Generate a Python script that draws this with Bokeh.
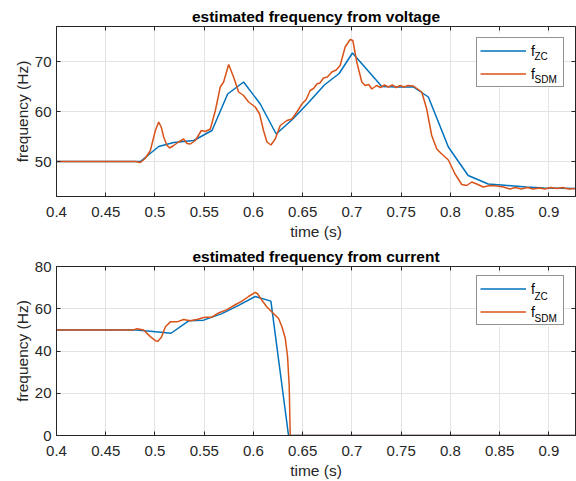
from bokeh.plotting import figure
from bokeh.models import Range1d, FixedTicker, LinearAxis, Legend, LegendItem, BoxAnnotation
from bokeh.core.properties import value
from bokeh.layouts import column
from bokeh.embed import file_html
from bokeh.resources import INLINE

# ---------------- data ----------------
x_ticks = [0.4, 0.45, 0.5, 0.55, 0.6, 0.65, 0.7, 0.75, 0.8, 0.85, 0.9]
x_tick_labels = ["0.4", "0.45", "0.5", "0.55", "0.6", "0.65", "0.7", "0.75", "0.8", "0.85", "0.9"]
v_y_ticks = [50, 60, 70]
c_y_ticks = [0, 20, 40, 60, 80]

# voltage: zero-crossing estimate
v_zc_t = [0.400, 0.4852, 0.5038, 0.519, 0.5393, 0.5579, 0.5738, 0.590, 0.6069, 0.6231,
          0.640, 0.656, 0.672, 0.687, 0.7005, 0.7303, 0.745, 0.7624, 0.7776, 0.7979,
          0.818, 0.8384, 0.858, 0.877, 0.895, 0.927]
v_zc_f = [50.0, 50.0, 53.0, 53.8, 54.2, 56.2, 63.5, 65.9, 61.5, 55.5,
          58.5, 61.8, 65.3, 67.6, 71.7, 65.0, 64.9, 64.9, 62.9, 52.9,
          47.2, 45.5, 45.2, 44.9, 44.7, 44.6]

# voltage: SDM estimate
v_sdm_t = [0.400, 0.480, 0.4852, 0.490, 0.4953, 0.5004, 0.5038, 0.5065, 0.5088, 0.5120,
           0.5149, 0.519, 0.524, 0.5291, 0.5325, 0.5359, 0.541, 0.5471, 0.5511, 0.5562,
           0.5613, 0.5663, 0.5697, 0.5748, 0.5798, 0.5849, 0.590, 0.595, 0.6018, 0.6062,
           0.6102, 0.6137, 0.6177, 0.6221, 0.6272, 0.634, 0.639, 0.6441, 0.6492, 0.6535,
           0.6576, 0.661, 0.6644, 0.6675, 0.6711, 0.675, 0.6796, 0.684, 0.688, 0.6931,
           0.6982, 0.7009, 0.7049, 0.710, 0.7134, 0.717, 0.7202, 0.725, 0.729, 0.733,
           0.737, 0.741, 0.745, 0.749, 0.753, 0.757, 0.7624, 0.7709, 0.7759, 0.781,
           0.7861, 0.7912, 0.7979, 0.8047, 0.8115, 0.8165, 0.8216, 0.8267, 0.8334, 0.8402,
           0.847, 0.8537, 0.8604, 0.866, 0.872, 0.878, 0.884, 0.890, 0.896, 0.902,
           0.908, 0.914, 0.920, 0.927]
v_sdm_f = [50.0, 50.0, 49.8, 50.6, 52.2, 56.2, 57.9, 56.8, 54.9, 53.3,
           52.7, 53.2, 53.9, 54.5, 53.6, 53.5, 54.2, 56.2, 56.0, 56.5,
           60.2, 64.9, 65.9, 69.4, 66.9, 63.9, 63.2, 61.9, 60.9, 59.5,
           56.2, 53.9, 53.3, 54.5, 57.2, 58.2, 58.5, 59.9, 61.5, 62.4,
           64.2, 64.6, 65.5, 65.7, 66.7, 66.9, 67.9, 68.3, 69.2, 72.9,
           74.4, 74.2, 69.9, 65.9, 65.2, 65.4, 64.5, 65.2, 64.8, 65.3,
           64.9, 65.3, 64.8, 65.2, 64.9, 65.2, 65.1, 63.9, 60.5, 55.2,
           52.5, 51.5, 50.3, 47.5, 45.4, 45.2, 45.9, 45.5, 44.9, 45.2,
           45.1, 44.9, 44.5, 44.8, 44.5, 44.8, 44.5, 44.7, 44.5, 44.8,
           44.6, 44.8, 44.5, 44.6]

# current: zero-crossing estimate
c_zc_t = [0.400, 0.478, 0.4953, 0.5163, 0.5342, 0.5494, 0.568, 0.5849, 0.6018, 0.6177, 0.6356, 0.927]
c_zc_f = [50.0, 50.0, 49.4, 48.4, 54.3, 54.6, 57.7, 61.6, 65.8, 63.6, 0.0, 0.0]

# current: SDM estimate
c_sdm_t = [0.400, 0.478, 0.4818, 0.4885, 0.4953, 0.5004, 0.5030, 0.5065, 0.5106, 0.5156,
           0.5224, 0.5291, 0.5359, 0.5427, 0.5494, 0.5579, 0.5646, 0.5731, 0.5815, 0.5883,
           0.595, 0.6018, 0.6041, 0.6086, 0.6137, 0.6188, 0.6255, 0.6289, 0.6323, 0.6346,
           0.6363, 0.6373, 0.927]
c_sdm_f = [50.0, 50.0, 50.5, 49.9, 46.8, 44.9, 44.6, 46.5, 51.5, 53.8,
           53.8, 54.9, 54.3, 54.9, 55.9, 56.1, 58.0, 59.6, 61.9, 63.6,
           65.8, 67.8, 67.1, 64.0, 60.8, 58.5, 55.4, 51.5, 46.0, 37.4,
           23.4, 0.0, 0.0]

series_names = ["f", "f"]
series_subs = ["ZC", "SDM"]

# ---------------- style ----------------
BLUE = "#0072BD"
ORANGE = "#D95319"
FONT = "Liberation Sans"
AX = "#262626"
GRID = "#e3e3e3"
X_START, X_END = 0.4, 0.927
FRAME_W = 519
B_LEFT, B_RIGHT = 56, 1
# legend box, in pixels from the frame's left / top edge
LEG_L, LEG_R, LEG_T, LEG_B = 420, 507, 8, 61


def style_axis(ax, show_labels=True):
    ax.axis_line_color = AX
    ax.major_tick_line_color = AX
    ax.major_tick_in = 4
    ax.major_tick_out = 0
    ax.minor_tick_line_color = None
    ax.major_label_text_font = FONT
    if show_labels:
        ax.major_label_text_color = AX
        ax.major_label_text_font_size = "15px"
    else:
        ax.major_label_text_color = None
        ax.major_label_text_font_size = "1px"
        ax.major_label_standoff = 0


def make_fig(title, y_start, y_end, y_ticks, frame_h, b_top, b_bot,
             zc_t, zc_f, sdm_t, sdm_f):
    p = figure(width=B_LEFT + FRAME_W + B_RIGHT, height=b_top + frame_h + b_bot,
               x_range=Range1d(X_START, X_END), y_range=Range1d(y_start, y_end),
               output_backend="svg", toolbar_location=None,
               min_border_left=B_LEFT, min_border_right=B_RIGHT,
               min_border_top=b_top, min_border_bottom=b_bot,
               background_fill_color="white", border_fill_color="white")
    p.title.text = title
    p.title.text_font = FONT
    p.title.text_font_size = "15.5px"
    p.title.text_font_style = "bold"
    p.title.text_color = "black"
    p.title.align = "center"
    p.title.standoff = 4

    tick_labels = {t: s for t, s in zip(x_ticks, x_tick_labels)}

    p.xaxis.ticker = FixedTicker(ticks=x_ticks)
    p.xaxis.major_label_overrides = tick_labels
    p.yaxis.ticker = FixedTicker(ticks=y_ticks)
    for ax in (p.xaxis[0], p.yaxis[0]):
        style_axis(ax)
        ax.axis_label_text_font = FONT
        ax.axis_label_text_font_size = "15.5px"
        ax.axis_label_text_font_style = "normal"
        ax.axis_label_text_color = AX
    p.xaxis.axis_label = "time (s)"
    p.yaxis.axis_label = "frequency (Hz)"
    p.xaxis.major_label_standoff = 10
    p.xaxis.axis_label_standoff = 3
    p.yaxis.major_label_standoff = 5
    p.yaxis.axis_label_standoff = 1

    top_ax = LinearAxis(ticker=FixedTicker(ticks=x_ticks))
    style_axis(top_ax, show_labels=False)
    right_ax = LinearAxis(ticker=FixedTicker(ticks=y_ticks))
    style_axis(right_ax, show_labels=False)
    p.add_layout(top_ax, "above")
    p.add_layout(right_ax, "right")

    p.xgrid.ticker = FixedTicker(ticks=x_ticks)
    p.ygrid.ticker = FixedTicker(ticks=y_ticks)
    p.grid.grid_line_color = GRID
    p.grid.grid_line_width = 1
    p.outline_line_color = AX
    p.outline_line_width = 1

    px_x = (X_END - X_START) / FRAME_W
    px_y = (y_end - y_start) / frame_h

    # white backing of the legend box (drawn over the grid)
    p.add_layout(BoxAnnotation(left=X_START + LEG_L * px_x, right=X_START + LEG_R * px_x,
                               top=y_end - (LEG_T - 1) * px_y, bottom=y_end - LEG_B * px_y,
                               fill_color="white", fill_alpha=1.0, line_color=None,
                               level="underlay"))

    r1 = p.line(zc_t, zc_f, line_color=BLUE, line_width=1.5)
    r2 = p.line(sdm_t, sdm_f, line_color=ORANGE, line_width=1.5)

    # subscripts of the legend entries
    sub_x = [X_START + (LEG_L + 58) * px_x for _ in series_subs]
    sub_y = [y_end - (LEG_T + 22 + 22.5 * i) * px_y for i in range(len(series_subs))]
    p.text(x=sub_x, y=sub_y, text=series_subs, text_font=value(FONT),
           text_font_size="10px", text_color="black", text_baseline="alphabetic",
           text_align="left")

    legend = Legend(items=[LegendItem(label=series_names[0], renderers=[r1]),
                           LegendItem(label=series_names[1], renderers=[r2])],
                    location=(LEG_L, frame_h - LEG_B),
                    orientation="vertical", padding=3, spacing=4, margin=0,
                    glyph_width=46, glyph_height=19, label_height=19, label_width=29,
                    label_standoff=5,
                    label_text_font=FONT, label_text_font_size="14px", label_text_color="black",
                    border_line_color=AX, border_line_width=1,
                    background_fill_alpha=0.0)
    p.add_layout(legend)
    return p


p1 = make_fig("estimated frequency from voltage", 43, 77, v_y_ticks, 170, 26, 46,
              v_zc_t, v_zc_f, v_sdm_t, v_sdm_f)
p2 = make_fig("estimated frequency from current", 0, 80, c_y_ticks, 171, 24, 44,
              c_zc_t, c_zc_f, c_sdm_t, c_sdm_f)

layout = column(p1, p2, spacing=0)
open("out.html", "w").write(file_html(layout, INLINE))
